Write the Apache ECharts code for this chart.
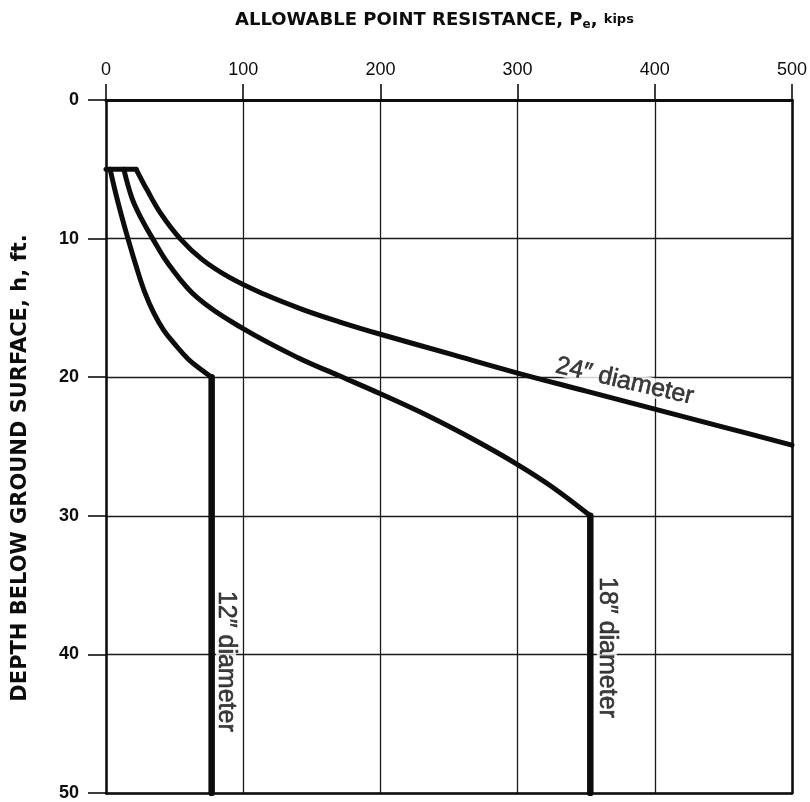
<!DOCTYPE html>
<html>
<head>
<meta charset="utf-8">
<script src="https://cdn.jsdelivr.net/npm/echarts@6/dist/echarts.min.js"></script>
<style>
  html, body { margin: 0; padding: 0; background: #ffffff; }
  #chart { width: 810px; height: 802px; }
</style>
</head>
<body>
<div id="chart"></div>
<script>
// Tick values of the two axes
const resistanceTicks = [0, 100, 200, 300, 400, 500];   // kips
const depthTicks = [0, 10, 20, 30, 40, 50];             // ft

// Allowable point resistance [kips, depth ft] for each pile diameter
const capLine = [[0, 5], [22, 5]];
const curve12 = [[3, 5], [7, 6.7], [12, 8.6], [16, 10], [22, 12], [28, 13.8], [35, 15.4], [42, 16.6], [50, 17.6], [60, 18.7], [70, 19.5], [77, 20]];
const leg12 = [[77, 20], [77, 50]];
const curve18 = [[13, 5], [19, 7.1], [26, 8.6], [34, 10], [46, 11.9], [67, 14.3], [100, 16.5], [140, 18.6], [170, 19.9], [200, 21.2], [235, 22.8], [270, 24.6], [300, 26.3], [325, 27.9], [353, 30]];
const leg18 = [[353, 30], [353, 50]];
const curve24 = [[22, 5], [30, 6.5], [40, 8.2], [54, 10], [70, 11.5], [90, 12.8], [115, 14], [143, 15.1], [170, 16], [200, 16.9], [250, 18.3], [300, 19.7], [350, 21], [400, 22.3], [450, 23.6], [500, 24.9]];

// Curve captions, anchored in chart units
const captionText = ['24\u2033 diameter', '12\u2033 diameter', '18\u2033 diameter'];
const captionAt = [[378, 20.3], [87.5, 40.5], [365, 39.5]];
const captionTilt = [-13, -90, -90];

const INK = '#0d0d0d';
const chart = echarts.init(document.getElementById('chart'), null, { renderer: 'canvas' });

function lineSeries(data, width, smooth) {
  return {
    type: 'line', data: data, xAxisIndex: 0, yAxisIndex: 0,
    symbol: 'none', smooth: smooth, silent: true, animation: false,
    lineStyle: { color: INK, width: width, cap: 'round', join: 'round' },
    z: 3
  };
}

const option = {
  backgroundColor: '#ffffff',
  animation: false,
  title: {
    text: 'ALLOWABLE POINT RESISTANCE, P{e|e}, {k|kips}',
    left: 230, top: 4,
    textStyle: {
      fontFamily: 'DejaVu Sans', fontWeight: 'bold', fontSize: 18, color: INK, lineHeight: 22,
      rich: {
        e: { fontFamily: 'DejaVu Sans', fontWeight: 'bold', fontSize: 12, lineHeight: 12, verticalAlign: 'bottom', color: INK },
        k: { fontFamily: 'DejaVu Sans', fontWeight: 'bold', fontSize: 13, lineHeight: 22, color: INK }
      }
    }
  },
  graphic: [{
    type: 'text', x: 21, y: 468, rotation: Math.PI / 2, silent: true,
    style: {
      text: 'DEPTH BELOW GROUND SURFACE, h, ft.',
      font: 'bold 21px "DejaVu Sans"', fill: INK,
      align: 'center', verticalAlign: 'middle'
    }
  }],
  grid: { left: 106, right: 14, top: 100, bottom: 9, containLabel: false },
  xAxis: [{
    type: 'value', position: 'top',
    min: resistanceTicks[0], max: resistanceTicks[resistanceTicks.length - 1],
    interval: resistanceTicks[1] - resistanceTicks[0],
    axisLine: { show: true, onZero: false, lineStyle: { color: INK, width: 3 } },
    axisTick: { show: true, length: 16, lineStyle: { color: INK, width: 1.6 } },
    axisLabel: { margin: 21, fontFamily: 'Liberation Sans', fontSize: 18, color: INK },
    splitLine: { show: true, lineStyle: { color: '#1a1a1a', width: 1.3 } }
  }, {
    type: 'value', position: 'bottom', gridIndex: 0,
    min: resistanceTicks[0], max: resistanceTicks[resistanceTicks.length - 1],
    axisLine: { show: true, onZero: false, lineStyle: { color: INK, width: 2.5 } },
    axisTick: { show: false }, axisLabel: { show: false }, splitLine: { show: false }
  }],
  yAxis: [{
    type: 'value', inverse: true, position: 'left',
    min: depthTicks[0], max: depthTicks[depthTicks.length - 1],
    interval: depthTicks[1] - depthTicks[0],
    axisLine: { show: true, onZero: false, lineStyle: { color: INK, width: 2.5 } },
    axisTick: { show: true, length: 18, lineStyle: { color: INK, width: 1.6 } },
    axisLabel: { margin: 27, fontFamily: 'Liberation Sans', fontWeight: 'bold', fontSize: 18, color: INK },
    splitLine: { show: true, lineStyle: { color: '#1a1a1a', width: 1.3 } }
  }, {
    type: 'value', inverse: true, position: 'right', gridIndex: 0,
    min: depthTicks[0], max: depthTicks[depthTicks.length - 1],
    axisLine: { show: true, onZero: false, lineStyle: { color: INK, width: 2.5 } },
    axisTick: { show: false }, axisLabel: { show: false }, splitLine: { show: false }
  }],
  series: [
    lineSeries(capLine, 5, false),
    lineSeries(curve12, 5, 0.4),
    lineSeries(leg12, 6.5, false),
    lineSeries(curve18, 5, 0.4),
    lineSeries(leg18, 6.5, false),
    lineSeries(curve24, 5, 0.4),
    {
      type: 'scatter', xAxisIndex: 0, yAxisIndex: 0, symbolSize: 0, silent: true, z: 5,
      data: captionText.map(function (t, i) {
        return {
          value: captionAt[i],
          label: {
            show: true, position: 'inside', rotate: captionTilt[i],
            formatter: t, fontFamily: 'Liberation Sans', fontSize: 25, lineHeight: 20,
            color: INK, textBorderColor: INK, textBorderWidth: 0.6,
            backgroundColor: '#ffffff', padding: [0, 2]
          }
        };
      })
    }
  ]
};

chart.setOption(option);
</script>
</body>
</html>
